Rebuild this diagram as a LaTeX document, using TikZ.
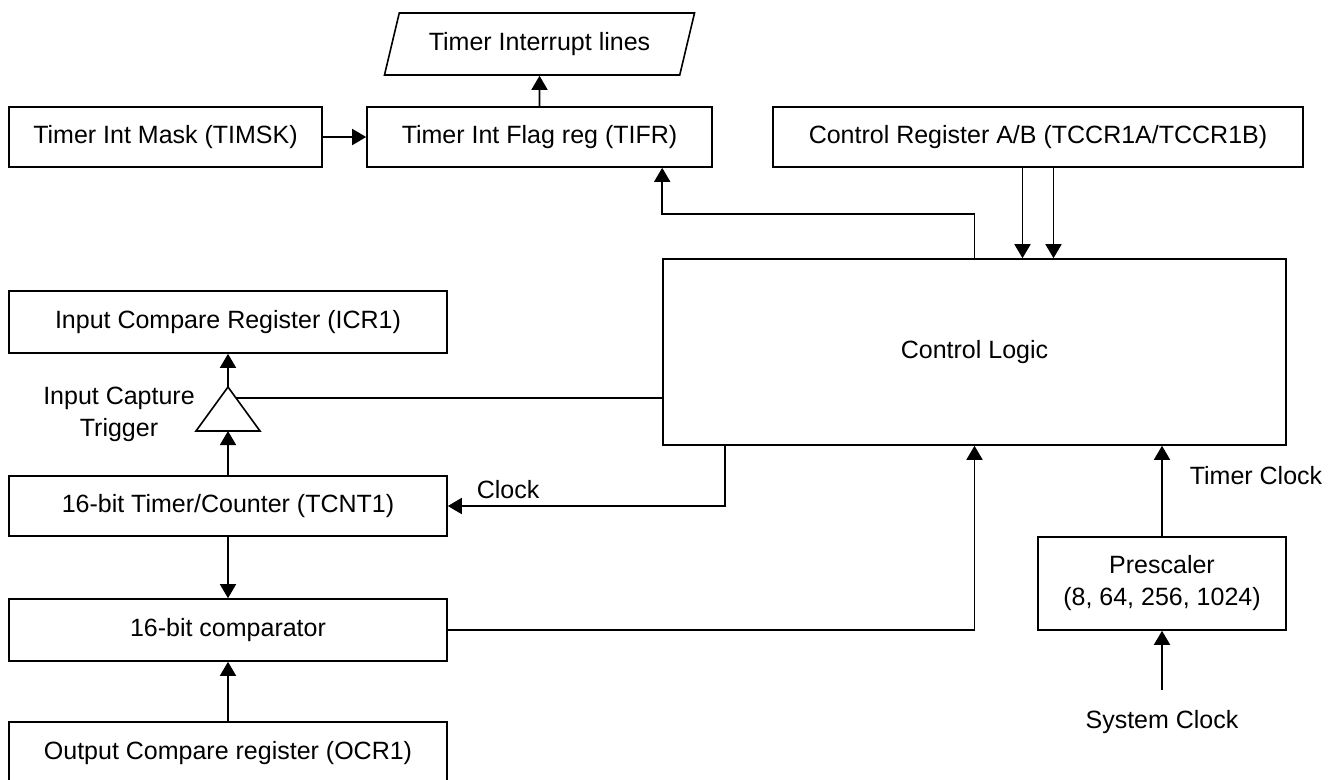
\documentclass[tikz,border=0pt]{standalone}
\usepackage{fontspec}
\setmainfont{Liberation Sans}
\usetikzlibrary{arrows.meta,shapes.geometric,calc}
\begin{document}
\begin{tikzpicture}[x=1pt,y=-1pt,
  every node/.style={font=\fontsize{25}{32}\selectfont, text=black},
  box/.style={draw, line width=1.6pt, inner sep=0pt, align=center},
  lbl/.style={inner sep=0pt, align=center},
  conn/.style={line width=1.6pt},
  arr/.style={line width=1.6pt, -{Triangle[length=14pt,width=16pt]}}
]
\fill[white] (0,0) rectangle (1343,779);
\useasboundingbox (0,0) rectangle (1343,779);

% boxes
\node[box, trapezium, trapezium left angle=63.4, trapezium right angle=116.6,
      trapezium stretches, minimum width=311pt, minimum height=62pt] (til) at (539.5,44) {Timer Interrupt lines};
\node[box, minimum width=313pt, minimum height=60pt] (timsk) at (165.5,137) {Timer Int Mask (TIMSK)};
\node[box, minimum width=345pt, minimum height=60pt] (tifr) at (539.5,137) {Timer Int Flag reg (TIFR)};
\node[box, minimum width=530pt, minimum height=60pt] (ccr) at (1038,137) {Control Register A/B (TCCR1A/TCCR1B)};
\node[box, minimum width=623pt, minimum height=186pt] (cl) at (974.5,352) {Control Logic};
\node[box, minimum width=438pt, minimum height=62pt] (icr) at (228,322) {Input Compare Register (ICR1)};
\node[box, minimum width=438pt, minimum height=60pt] (tcnt) at (228,506) {16-bit Timer/Counter (TCNT1)};
\node[box, minimum width=438pt, minimum height=62pt] (cmp) at (228,630) {16-bit comparator};
\node[box, minimum width=438pt, minimum height=62pt] (ocr) at (228,753) {Output Compare register (OCR1)};
\node[box, minimum width=248pt, minimum height=93pt] (pre) at (1162,583.5) {Prescaler\\(8, 64, 256, 1024)};

% labels
\node[lbl] (ict) at (119,414) {Input Capture\\Trigger};
\node[lbl] (clk) at (508,490) {Clock};
\node[lbl] (tclk) at (1256,476) {Timer Clock};
\node[lbl] (sys) at (1162,722) {System Clock};

% input capture trigger (triangle)
\coordinate (trA) at (228,387);
\coordinate (trB) at (228,431);
\coordinate (trR) at (236,398);
\draw[conn] (trA) -- (260,431) -- (196,431) -- cycle;
\coordinate (sysin) at (1162,690);

% connectors
\draw[arr] (timsk.east) -- (tifr.west);
\draw[arr] (tifr.north) -- (til.south);
\draw[arr] (cl.north) |- ($(tifr.south -| cl.west)+(0,46)$) -- (tifr.south -| cl.west);
\draw[arr] ([xshift=-15.5pt]ccr.south) -- ([xshift=-15.5pt]ccr.south |- cl.north);
\draw[arr] ([xshift=15.5pt]ccr.south) -- ([xshift=15.5pt]ccr.south |- cl.north);
\draw[arr] (trA) -- (icr.south);
\draw[arr] (tcnt.north) -- (trB);
\draw[conn] (trR) -- (trR -| cl.west);
\draw[arr] ([xshift=63pt]cl.south west) |- (tcnt.east);
\draw[arr] (tcnt.south) -- (cmp.north);
\draw[arr] (ocr.north) -- (cmp.south);
\draw[arr] (cmp.east) -| (cl.south);
\draw[arr] (pre.north) -- (pre.north |- cl.south);
\draw[arr] (sysin) -- (pre.south);
\end{tikzpicture}
\end{document}
